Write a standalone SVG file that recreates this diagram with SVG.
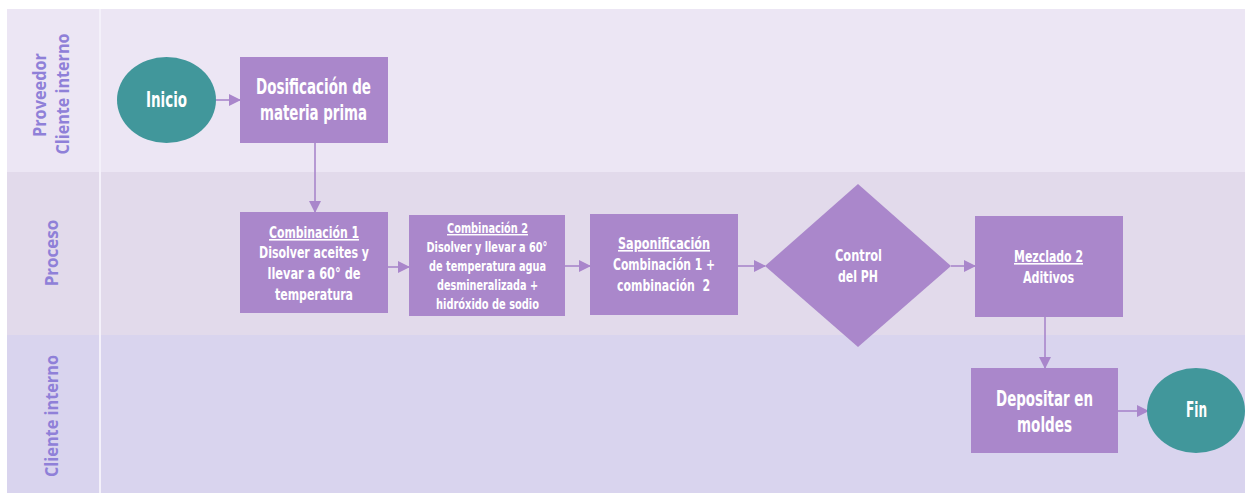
<svg xmlns="http://www.w3.org/2000/svg" width="1245" height="493" viewBox="0 0 1245 493">
<defs>
<marker id="ah" markerWidth="12" markerHeight="12" refX="11" refY="6" orient="auto" markerUnits="userSpaceOnUse">
<path d="M0,0 L12,6 L0,12 Z" fill="#A986CB"/>
</marker>
<style>
.lane-label{font-family:"Open Sans","DejaVu Sans",sans-serif;font-weight:700;font-size:17px;fill:#8F80D8;text-anchor:middle}
.box{fill:#AA87CB}
.term{fill:#41979B}
.t{font-family:"DejaVu Sans Condensed","Liberation Sans",sans-serif;font-weight:700;fill:#FFFFFF;text-anchor:middle}
.big{font-size:21px}
.mid{font-size:16px}
.sm{font-size:14.5px}
.u{text-decoration:underline}
.conn{stroke:#A986CB;stroke-width:1.6;fill:none;marker-end:url(#ah)}
</style>
</defs>
<rect x="0" y="0" width="1245" height="493" fill="#FFFFFF"/>
<g id="lanes">
<rect x="7" y="9" width="1238" height="163" fill="#ECE6F4"/>
<rect x="7" y="172" width="1238" height="163" fill="#E2DAEB"/>
<rect x="7" y="335" width="1238" height="158" fill="#D9D4EE"/>
<line x1="100" y1="9" x2="100" y2="493" stroke="#F4F1FA" stroke-width="2"/>
<text class="lane-label" transform="translate(46,95) rotate(-90)" textLength="84" lengthAdjust="spacingAndGlyphs">Proveedor</text>
<text class="lane-label" transform="translate(69,94) rotate(-90)" textLength="121" lengthAdjust="spacingAndGlyphs">Cliente interno</text>
<text class="lane-label" transform="translate(58,253) rotate(-90)">Proceso</text>
<text class="lane-label" transform="translate(58,416) rotate(-90)" textLength="122" lengthAdjust="spacingAndGlyphs">Cliente interno</text>
</g>
<g id="connectors">
<line class="conn" x1="216" y1="100" x2="240" y2="100"/>
<line class="conn" x1="315" y1="143" x2="315" y2="212"/>
<line class="conn" x1="388" y1="267" x2="409" y2="267"/>
<line class="conn" x1="565" y1="266" x2="590" y2="266"/>
<line class="conn" x1="738" y1="266" x2="765" y2="266"/>
<line class="conn" x1="951" y1="266" x2="975" y2="266"/>
<line class="conn" x1="1045" y1="317" x2="1045" y2="368"/>
<line class="conn" x1="1118" y1="411" x2="1148" y2="411"/>
</g>
<g id="inicio">
<ellipse class="term" cx="166.5" cy="100" rx="49.5" ry="43"/>
<text class="t big" x="166.5" y="107" textLength="41" lengthAdjust="spacingAndGlyphs">Inicio</text>
</g>
<g id="dosificacion">
<rect class="box" x="240" y="57" width="148" height="86"/>
<text class="t big" x="313.5" y="94" textLength="115" lengthAdjust="spacingAndGlyphs">Dosificación de</text>
<text class="t big" x="313.5" y="120" textLength="107" lengthAdjust="spacingAndGlyphs">materia prima</text>
</g>
<g id="combinacion1">
<rect class="box" x="240" y="212" width="148" height="101"/>
<text class="t mid u" x="314" y="238" textLength="90" lengthAdjust="spacingAndGlyphs">Combinación 1</text>
<text class="t mid" x="314" y="258" textLength="110" lengthAdjust="spacingAndGlyphs">Disolver aceites y</text>
<text class="t mid" x="314" y="279" textLength="93" lengthAdjust="spacingAndGlyphs">llevar a 60° de</text>
<text class="t mid" x="314" y="300" textLength="78" lengthAdjust="spacingAndGlyphs">temperatura</text>
</g>
<g id="combinacion2">
<rect class="box" x="409" y="215" width="156" height="101"/>
<text class="t sm u" x="487.5" y="233" textLength="81" lengthAdjust="spacingAndGlyphs">Combinación 2</text>
<text class="t sm" x="487" y="252" textLength="121" lengthAdjust="spacingAndGlyphs">Disolver y llevar a 60°</text>
<text class="t sm" x="487.5" y="271" textLength="117" lengthAdjust="spacingAndGlyphs">de temperatura agua</text>
<text class="t sm" x="487.5" y="290" textLength="101" lengthAdjust="spacingAndGlyphs">desmineralizada +</text>
<text class="t sm" x="487.5" y="309" textLength="103" lengthAdjust="spacingAndGlyphs">hidróxido de sodio</text>
</g>
<g id="saponificacion">
<rect class="box" x="590" y="214" width="148" height="101"/>
<text class="t mid u" x="664" y="249" textLength="92" lengthAdjust="spacingAndGlyphs">Saponificación</text>
<text class="t mid" x="664" y="270" textLength="102" lengthAdjust="spacingAndGlyphs">Combinación 1 +</text>
<text class="t mid" x="663.5" y="291" textLength="93" lengthAdjust="spacingAndGlyphs" xml:space="preserve">combinación  2</text>
</g>
<g id="control">
<polygon class="box" points="858,184 951,266 858,347 765,266"/>
<text class="t mid" x="858.5" y="261" textLength="47" lengthAdjust="spacingAndGlyphs">Control</text>
<text class="t mid" x="858" y="282" textLength="40" lengthAdjust="spacingAndGlyphs">del PH</text>
</g>
<g id="mezclado">
<rect class="box" x="975" y="216" width="148" height="101"/>
<text class="t mid u" x="1048.5" y="262" textLength="69" lengthAdjust="spacingAndGlyphs">Mezclado 2</text>
<text class="t mid" x="1048.5" y="283" textLength="51" lengthAdjust="spacingAndGlyphs">Aditivos</text>
</g>
<g id="depositar">
<rect class="box" x="971" y="368" width="147" height="85"/>
<text class="t big" x="1044.5" y="406" textLength="97" lengthAdjust="spacingAndGlyphs">Depositar en</text>
<text class="t big" x="1044.5" y="432" textLength="55" lengthAdjust="spacingAndGlyphs">moldes</text>
</g>
<g id="fin">
<ellipse class="term" cx="1196" cy="410.5" rx="49" ry="42.5"/>
<text class="t big" x="1196.5" y="417" textLength="21" lengthAdjust="spacingAndGlyphs">Fin</text>
</g>
</svg>
